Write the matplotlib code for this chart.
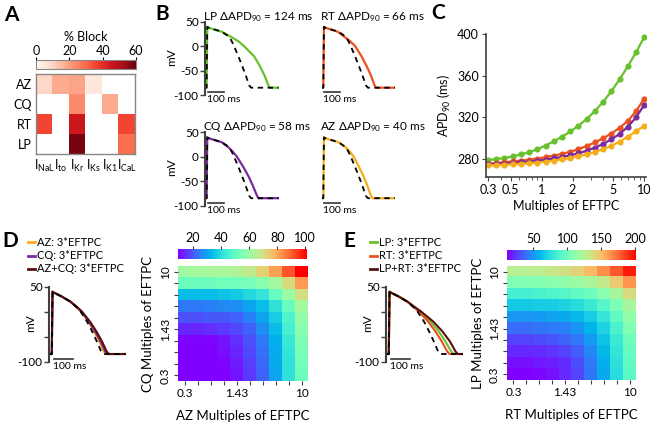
import numpy as np
import matplotlib
matplotlib.use('Agg')
import matplotlib.pyplot as plt

plt.rcParams['font.family'] = ['Lato', 'DejaVu Sans']
plt.rcParams['font.size'] = 8.5
plt.rcParams['mathtext.fontset'] = 'custom'
plt.rcParams['mathtext.rm'] = 'Lato'
plt.rcParams['mathtext.it'] = 'Lato:italic'
plt.rcParams['mathtext.bf'] = 'Lato:bold'

# ---------------- data ----------------
drugs = ['AZ', 'CQ', 'RT', 'LP']
currents = ['NaL', 'to', 'Kr', 'Ks', 'K1', 'CaL']
block = np.array([
    [9, 18, 19, 5, 0, 0],      # AZ
    [0, 0, 24, 0, 18, 0],      # CQ
    [36, 0, 45, 0, 0, 36],     # RT
    [0, 0, 58, 0, 0, 29],      # LP
])

# action potential traces (voltage levels shared, times read per trace)
ap_v = [-85, -85, 40, 38, 30, 20, 10, 0, -20, -40, -60, -80, -85, -85]
t_ctrl_b = [-10, 0, 4, 15, 95, 140, 158, 172, 198, 222, 245, 266, 278, 450]
t_lp_b = [-10, 0, 4, 15, 95, 150, 200, 235, 296, 332, 362, 386, 395, 450]
t_rt_b = [-10, 0, 4, 15, 90, 130, 170, 200, 238, 270, 298, 320, 330, 450]
t_cq_b = [-10, 0, 4, 15, 95, 135, 165, 190, 228, 262, 290, 315, 325, 450]
t_az_b = [-10, 0, 4, 15, 95, 138, 168, 190, 222, 252, 276, 298, 308, 450]
b_titles = ['LP', 'RT', 'CQ', 'AZ']
b_delta = [124, 66, 58, 40]

t_ctrl_de = [-15, 0, 4, 12, 55, 100, 130, 155, 190, 218, 243, 266, 278, 400]
t_az_d = [-15, 0, 4, 12, 55, 100, 131, 158, 197, 228, 256, 280, 292, 400]
t_cq_d = [-15, 0, 4, 12, 55, 100, 132, 160, 201, 234, 263, 288, 300, 400]
t_azcq_d = [-15, 0, 4, 12, 55, 101, 134, 163, 206, 241, 271, 296, 308, 400]
t_lp_e = [-15, 0, 4, 12, 55, 100, 134, 168, 225, 270, 306, 336, 350, 400]
t_rt_e = [-15, 0, 4, 12, 55, 100, 132, 162, 212, 252, 286, 315, 328, 400]
t_lprt_e = [-15, 0, 4, 12, 55, 101, 137, 175, 240, 290, 330, 360, 372, 400]

# APD90 vs multiples of EFTPC
mult = [0.300, 0.361, 0.434, 0.522, 0.628, 0.755, 0.908, 1.092, 1.313, 1.579,
        1.900, 2.285, 2.748, 3.305, 3.975, 4.781, 5.750, 6.916, 8.317, 10.0]
apd_lp = [279, 280, 281, 282.5, 284.5, 286.5, 289.5, 293, 297, 301.5,
          306.5, 312, 318.5, 326, 335, 345, 356.5, 369, 382.5, 397]
apd_rt = [275.5, 276.2, 277, 277.7, 278.5, 279.4, 280.5, 281.8, 283.3, 285,
          287, 289.5, 292.5, 296, 300, 304.5, 310, 316.5, 326, 338]
apd_cq = [275, 275.3, 275.7, 276.2, 276.8, 277.5, 278.4, 279.4, 280.6, 282,
          283.6, 285.5, 288, 291, 294.5, 299, 304, 311, 320, 332]
apd_az = [274, 274.2, 274.5, 274.9, 275.4, 276, 276.7, 277.5, 278.5, 279.6,
          281, 282.6, 284.5, 286.8, 289.5, 292.8, 296.7, 301.5, 306.5, 312]

# combination heatmaps (rows: top = 10x, bottom = 0.3x; cols: 0.3x .. 10x)
grid_labels = ['0.3', '', '', '', '1.43', '', '', '', '', '10']
d_map = np.array([
    [61, 62, 63, 63, 64, 67, 73, 81, 91, 101],
    [52, 52, 52, 53, 53, 54, 57, 62, 71, 82],
    [34, 34, 34, 35, 36, 39, 42, 51, 60, 70],
    [24, 24, 25, 26, 27, 30, 34, 41, 51, 62],
    [19, 19, 20, 20, 21, 25, 30, 37, 47, 59],
    [14, 14, 15, 16, 18, 21, 27, 34, 45, 57],
    [10, 10, 10, 12, 15, 19, 24, 32, 43, 55],
    [9.5, 9.5, 9.5, 11, 14, 18, 23, 31, 42, 54],
    [9.5, 9.5, 9.5, 10, 13, 17, 22, 31, 41, 53],
    [9.5, 9.5, 9.5, 9.5, 12, 16, 21, 30, 41, 52],
])
e_map = np.array([
    [127, 127, 129, 133, 136, 142, 152, 165, 180, 195],
    [106, 106, 108, 110, 112, 116, 121, 131, 146, 163],
    [85, 85, 87, 89, 91, 95, 100, 110, 121, 138],
    [66, 66, 68, 68, 70, 74, 81, 91, 104, 121],
    [49, 49, 51, 53, 55, 60, 68, 79, 95, 112],
    [38, 38, 40, 41, 43, 49, 59, 70, 87, 106],
    [28, 28, 30, 32, 36, 41, 51, 64, 81, 100],
    [21, 21, 22, 24, 28, 34, 45, 60, 78, 97],
    [15, 15, 17, 19, 22, 30, 41, 57, 76, 95],
    [11, 11, 13, 15, 21, 28, 40, 55, 74, 93],
])

c_lp = '#67c12c'
c_rt = '#ec5020'
c_cq = '#7b2c9c'
c_az = '#f5ae1a'
c_mix = '#5a1010'
spine_c = '#404040'

W, H = 657, 422
fig = plt.figure(figsize=(W / 100, H / 100), dpi=100)


def px_ax(x0, y0, x1, y1):
    return fig.add_axes([x0 / W, 1 - y1 / H, (x1 - x0) / W, (y1 - y0) / H])


def px_text(x, y, s, **kw):
    return fig.text(x / W, 1 - y / H, s, **kw)


def style_trace(ax, xlim, show_axis, labels):
    ax.set_xlim(*xlim)
    ax.set_ylim(-100, 50)
    for s in ['top', 'right', 'bottom']:
        ax.spines[s].set_visible(False)
    ax.set_xticks([])
    if show_axis:
        ax.spines['left'].set_color(spine_c)
        ax.spines['left'].set_linewidth(1.5)
        ax.set_yticks([50, 0, -50, -100])
        ax.set_yticklabels(labels, fontsize=8.5)
        ax.tick_params(axis='y', length=3.5, width=1, color=spine_c, pad=1)
    else:
        ax.spines['left'].set_visible(False)
        ax.set_yticks([])
    ax.patch.set_alpha(0)


def scale_bar(ax, t0):
    ax.plot([t0, t0 + 100], [-94, -94], color='#333333', lw=1.2, clip_on=False)
    ax.text(t0 - 5, -101, '100 ms', fontsize=7.5, va='top', ha='left', clip_on=False)


# ---------------- panel A ----------------
ax_a = px_ax(36, 74, 135, 154)
reds = plt.get_cmap('Reds').copy()
reds.set_bad('white')
im_a = ax_a.imshow(np.ma.masked_equal(block, 0), cmap=reds, vmin=0, vmax=60,
                   aspect='auto')
ax_a.set_xticks(range(len(currents)))
ax_a.set_xticklabels([r'I$_{\rm %s}$' % c for c in currents], fontsize=9)
ax_a.set_yticks(range(len(drugs)))
ax_a.set_yticklabels(drugs, fontsize=9)
ax_a.tick_params(length=0, pad=3)
for s in ax_a.spines.values():
    s.set_color('#888888')
    s.set_linewidth(1)
cax_a = px_ax(36, 60, 136, 69)
cb_a = fig.colorbar(im_a, cax=cax_a, orientation='horizontal')
cb_a.set_ticks([0, 20, 40, 60])
cax_a.xaxis.set_ticks_position('top')
cax_a.tick_params(labelsize=9, length=2, pad=0.5)
cb_a.outline.set_edgecolor('#888888')
px_text(86, 37, '% Block', fontsize=9, ha='center', va='center')

# ---------------- panel B ----------------
b_specs = [
    (206.6, 22, t_lp_b, c_lp, True),
    (323.3, 22, t_rt_b, c_rt, False),
    (206.6, 132.5, t_cq_b, c_cq, True),
    (323.3, 132.5, t_az_b, c_az, False),
]
for i, (x_up, y_top, t_drug, col, left) in enumerate(b_specs):
    x0 = x_up - 10 * 0.16
    ax = px_ax(x0, y_top, x0 + 460 * 0.16, y_top + 73)
    ax.plot(t_drug, ap_v, color=col, lw=1.6, solid_joinstyle='round')
    ax.plot(t_ctrl_b, ap_v, color='black', lw=1.3, dashes=(3, 2.5))
    style_trace(ax, (-10, 450), left, ['50', '0', '-50', '-100'])
    scale_bar(ax, 6)
    px_text(x0 - 2, y_top - 5, '%s ΔAPD$_{90}$ = %d ms' % (b_titles[i], b_delta[i]),
            fontsize=8.5, ha='left', va='center')
    if left:
        px_text(172, y_top + 35, 'mV', fontsize=8.5, rotation=90, ha='center', va='center')

# ---------------- panel C ----------------
ax_c = px_ax(486, 34, 646, 177)
for y, col in [(apd_lp, c_lp), (apd_rt, c_rt), (apd_cq, c_cq), (apd_az, c_az)]:
    ax_c.plot(mult, y, color=col, lw=1.6, marker='o', ms=3.4, mec=col, mfc=col)
ax_c.set_xscale('log')
ax_c.set_xlim(0.287, 10.4)
ax_c.set_ylim(262.8, 400)
ax_c.set_yticks([280, 320, 360, 400])
ax_c.set_xticks([0.3, 0.5, 1, 2, 5, 10])
ax_c.set_xticklabels(['0.3', '0.5', '1', '2', '5', '10'])
ax_c.minorticks_on()
ax_c.tick_params(axis='both', which='major', labelsize=9, length=3, color=spine_c, pad=2)
ax_c.tick_params(axis='x', which='minor', length=2, color=spine_c)
ax_c.tick_params(axis='y', which='minor', length=0)
for s in ['top', 'right']:
    ax_c.spines[s].set_visible(False)
for s in ['left', 'bottom']:
    ax_c.spines[s].set_color(spine_c)
    ax_c.spines[s].set_linewidth(1.2)
ax_c.set_xlabel('Multiples of EFTPC', fontsize=9, labelpad=3)
ax_c.set_ylabel('APD$_{90}$ (ms)', fontsize=9, labelpad=3)


# ---------------- panels D and E ----------------
def combo_panel(x_spine, x_leg, traces, names, hm_box, cb_box, data, vmin, vmax,
                cticks, xname, yname, letter, lx):
    ax = px_ax(x_spine, 286.7, x_spine + 415 * 0.1855, 361.5)
    for t, col in traces:
        ax.plot(t, ap_v, color=col, lw=1.5)
    ax.plot(t_ctrl_de, ap_v, color='black', lw=1.3, dashes=(3, 2.5))
    style_trace(ax, (-15, 400), True, ['50', '', '', '-100'])
    scale_bar(ax, 14)
    px_text(x_spine - 18, 323, 'mV', fontsize=8.5, rotation=90, ha='center', va='center')
    for k, (nm, (t, col)) in enumerate(zip(names, traces)):
        yy = 242.5 + 13 * k
        fig.add_artist(plt.Line2D([x_leg / W, (x_leg + 7) / W],
                                  [1 - yy / H, 1 - yy / H], color=col, lw=2))
        px_text(x_leg + 9, yy, nm, fontsize=8, ha='left', va='center')
    axh = px_ax(*hm_box)
    im = axh.imshow(data, cmap='rainbow', vmin=vmin, vmax=vmax, aspect='auto')
    axh.set_xticks(range(10))
    axh.set_xticklabels(grid_labels, fontsize=8.5)
    axh.set_yticks(range(10))
    axh.set_yticklabels(grid_labels[::-1], fontsize=8.5, rotation=90, va='center')
    axh.tick_params(length=3, width=0.8, color=spine_c, pad=2)
    for s in axh.spines.values():
        s.set_visible(False)
    axh.set_xlabel(xname, fontsize=9.5, labelpad=8)
    axh.set_ylabel(yname, fontsize=9.5, labelpad=4)
    cax = px_ax(*cb_box)
    cb = fig.colorbar(im, cax=cax, orientation='horizontal')
    cb.set_ticks(cticks)
    cax.xaxis.set_ticks_position('top')
    cax.tick_params(labelsize=9, length=2, pad=1, color=spine_c)
    cb.outline.set_visible(False)
    px_text(lx, 241, letter, fontsize=15, fontweight='bold', ha='center', va='center')


combo_panel(49, 28, [(t_az_d, c_az), (t_cq_d, c_cq), (t_azcq_d, c_mix)],
            ['AZ: 3*EFTPC', 'CQ: 3*EFTPC', 'AZ+CQ: 3*EFTPC'],
            (178, 266, 308, 381), (178.3, 248.5, 306.7, 259), d_map, 9.5, 101,
            [20, 40, 60, 80, 100], 'AZ Multiples of EFTPC', 'CQ Multiples of EFTPC',
            'D', 10)
combo_panel(386, 370, [(t_lp_e, c_lp), (t_rt_e, c_rt), (t_lprt_e, c_mix)],
            ['LP: 3*EFTPC', 'RT: 3*EFTPC', 'LP+RT: 3*EFTPC'],
            (507, 266, 636, 380), (507, 249.5, 636, 260), e_map, 11, 201,
            [50, 100, 150, 200], 'RT Multiples of EFTPC', 'LP Multiples of EFTPC',
            'E', 349)

# panel letters
px_text(11, 15, 'A', fontsize=15, fontweight='bold', ha='center', va='center')
px_text(162, 14, 'B', fontsize=15, fontweight='bold', ha='center', va='center')
px_text(438, 13, 'C', fontsize=15, fontweight='bold', ha='center', va='center')

fig.savefig('out.png', dpi=100)
